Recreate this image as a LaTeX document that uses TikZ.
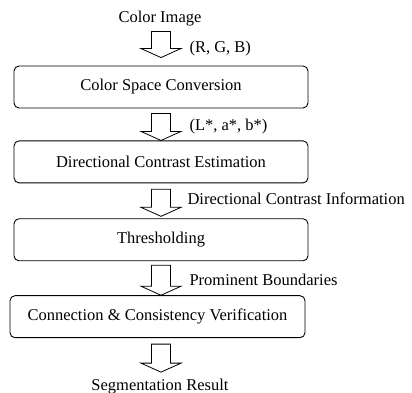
\documentclass[tikz,border=0pt]{standalone}
\usepackage{fontspec}
\setmainfont{Liberation Serif}
\usetikzlibrary{positioning,calc}

% block arrow from #1 to #2, its middle point is named #3
\newcommand{\flowarrow}[3]{%
  \draw [line width=0.8pt] let \p1 = #1, \p2 = #2, \p3 = (spine) in
    (\x3-9.5pt,\y1) -- (\x3+9.5pt,\y1) -- (\x3+9.5pt,\y2+9pt) -- (\x3+20pt,\y2+9pt)
    -- (\x3,\y2) -- (\x3-20pt,\y2+9pt) -- (\x3-9.5pt,\y2+9pt) -- cycle;
  \path let \p1 = #1, \p2 = #2, \p3 = (spine) in
    coordinate (#3) at (\x3,{0.5*(\y1+\y2)});
}

\begin{document}
\begin{tikzpicture}[x=1pt, y=1pt, font=\fontsize{16.5}{19}\selectfont,
	node distance = 34pt,
	block/.style = { rectangle, draw=black, line width=0.9pt,
	rounded corners=5pt, minimum width=294pt, minimum height=42pt},
	lbl/.style = { anchor=west } ]

  \useasboundingbox (0,0) rectangle (412,393);

  \node [name=csc, block] at (161,306) { Color Space Conversion };
  \coordinate (spine) at (csc.center);
  \node [name=dce, block, below=32pt of csc] { Directional Contrast Estimation };
  \node [name=thr, block, below=35pt of dce] { Thresholding };
  \node [name=ccv, block, minimum width=295pt,
	below=34pt of thr, xshift=-3.5pt] { Connection \& Consistency Verification };
  \node [name=img, above=36pt of csc, xshift=-1pt] { Color Image };
  \node [name=res, below=37pt of ccv, xshift=2.5pt] { Segmentation Result };

  \flowarrow{([yshift=-2pt]img.south)}{([yshift=8pt]csc.north)}{a1}
  \flowarrow{([yshift=-5pt]csc.south)}{(dce.north)}{a2}
  \flowarrow{([yshift=-6pt]dce.south)}{([yshift=2pt]thr.north)}{a3}
  \flowarrow{([yshift=-4pt]thr.south)}{(ccv.north)}{a4}
  \flowarrow{([yshift=-6pt]ccv.south)}{([yshift=3pt]res.north)}{a5}

  \node [name=rgb, lbl, right=25pt of a1, yshift=-4pt] { (R, G, B) };
  \node [name=lab, lbl, right=25pt of a2] { (L*, a*, b*) };
  \node [name=dci, lbl, right=23pt of a3, yshift=4pt] { Directional Contrast Information };
  \node [name=pb, lbl, right=25pt of a4] { Prominent Boundaries };
\end{tikzpicture}
\end{document}
